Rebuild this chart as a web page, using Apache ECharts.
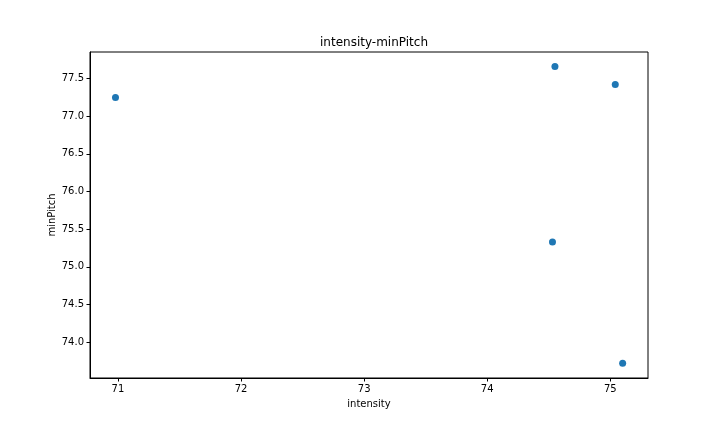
<!DOCTYPE html>
<html>
<head>
<meta charset="utf-8">
<script src="https://cdn.jsdelivr.net/npm/echarts@6/dist/echarts.min.js"></script>
<style>
  html, body { margin: 0; padding: 0; background: #fff; }
  #chart-container { width: 720px; height: 432px; }
</style>
</head>
<body>
<div id="chart-container"></div>
<script>
var intensity = [70.98, 74.55, 75.04, 74.53, 75.10];
var minPitch = [77.25, 77.66, 77.42, 75.33, 73.72];
var xTicks = [71, 72, 73, 74, 75];
var yTicks = [74.0, 74.5, 75.0, 75.5, 76.0, 76.5, 77.0, 77.5];

var dom = document.getElementById('chart-container');
var myChart = echarts.init(dom, null, { renderer: 'canvas' });

var points = intensity.map(function (v, i) {
  return [v, minPitch[i]];
});

var font = 'DejaVu Sans';

var option = {
  animation: false,
  backgroundColor: '#fff',
  title: {
    text: 'intensity-minPitch',
    left: 369,
    top: 32,
    textAlign: 'center',
    textStyle: { fontFamily: font, fontSize: 12, fontWeight: 'normal', color: '#000' }
  },
  grid: {
    left: 90,
    right: 72,
    top: 52,
    bottom: 54,
    show: true,
    borderColor: '#000',
    borderWidth: 1,
    containLabel: false
  },
  xAxis: {
    type: 'value',
    min: 70.773,
    max: 75.306,
    name: 'intensity',
    nameLocation: 'middle',
    nameGap: 21,
    nameMoveOverlap: false,
    nameTextStyle: { fontFamily: font, fontSize: 10, color: '#000' },
    splitLine: { show: false },
    axisLine: { show: true, onZero: false, lineStyle: { color: '#000', width: 1 } },
    axisTick: { show: true, length: 3.5, customValues: xTicks, lineStyle: { color: '#000' } },
    axisLabel: {
      customValues: xTicks,
      margin: 6,
      fontFamily: font,
      fontSize: 10,
      color: '#000'
    }
  },
  yAxis: {
    type: 'value',
    min: 73.523,
    max: 77.853,
    name: 'minPitch',
    nameLocation: 'middle',
    nameGap: 33,
    nameMoveOverlap: false,
    nameTextStyle: { fontFamily: font, fontSize: 10, color: '#000' },
    splitLine: { show: false },
    axisLine: { show: true, onZero: false, lineStyle: { color: '#000', width: 1 } },
    axisTick: { show: true, length: 3.5, customValues: yTicks, lineStyle: { color: '#000' } },
    axisLabel: {
      customValues: yTicks,
      margin: 6,
      fontFamily: font,
      fontSize: 10,
      color: '#000',
      formatter: function (v) { return v.toFixed(1); }
    }
  },
  series: [
    {
      type: 'scatter',
      data: points,
      symbol: 'circle',
      symbolSize: 7,
      itemStyle: { color: '#1f77b4', opacity: 1 }
    }
  ]
};

myChart.setOption(option);
window.addEventListener('resize', myChart.resize);
</script>
</body>
</html>
